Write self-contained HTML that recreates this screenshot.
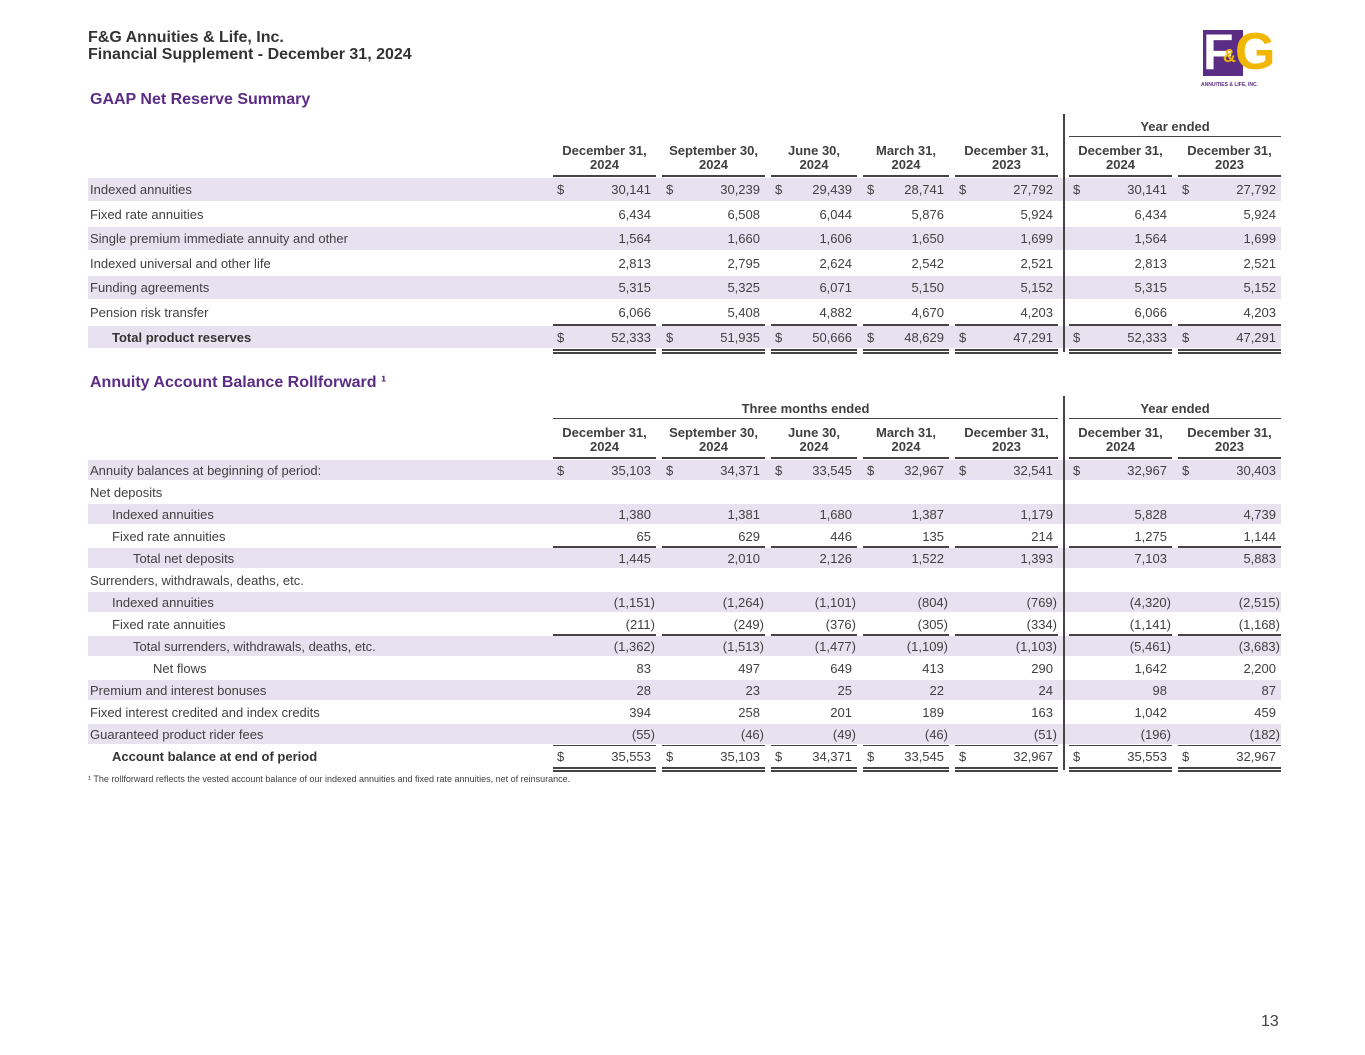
<!DOCTYPE html>
<html><head><meta charset="utf-8">
<style>
body{margin:0;width:1365px;height:1055px;background:#fff;position:relative;overflow:hidden;font-family:"Liberation Sans",Arial,sans-serif;color:#404040}
.a{position:absolute;white-space:nowrap}
.t{font-size:13px;line-height:15px}
.h{font-weight:bold;font-size:13px;line-height:14px;text-align:center;color:#404040}
.shade{position:absolute;background:#e8e2f0}
.ln{position:absolute;background:#444;height:1px}
</style></head><body>
<div class="a" style="left:88px;top:29px;font-weight:bold;font-size:16px;line-height:17px;color:#333">F&amp;G Annuities &amp; Life, Inc.<br>Financial Supplement - December 31, 2024</div>
<div class="a" style="left:1201px;top:30px;width:80px;height:60px">
 <div style="position:absolute;left:2px;top:0;width:40px;height:46px;background:#5b2c83"></div>
 <div style="position:absolute;left:2px;top:-6px;font:bold 50px/56px 'Liberation Sans';color:#fff;letter-spacing:-3px">F</div>
 <div style="position:absolute;left:34px;top:-6px;font:bold 52px/56px 'Liberation Sans';color:#f2b705">G</div>
 <div style="position:absolute;left:22px;top:16px;font:bold 18px/20px 'Liberation Sans';color:#f2b705">&amp;</div>
 <div style="position:absolute;left:0;top:52px;font:bold 5px/6px 'Liberation Sans';color:#5b2c83">ANNUITIES &amp; LIFE, INC.</div>
</div>
<div class="a" style="left:90px;top:91px;font-weight:bold;font-size:16px;color:#5b2c83">GAAP Net Reserve Summary</div>
<div class="a" style="left:90px;top:374px;font-weight:bold;font-size:16px;color:#5b2c83">Annuity Account Balance Rollforward ¹</div>
<div class="a" style="left:88px;top:774px;font-size:9px">¹ The rollforward reflects the vested account balance of our indexed annuities and fixed rate annuities, net of reinsurance.</div>
<div class="a" style="left:1261px;top:1013px;font-size:16px">13</div>
<div id="root"></div>
<script>
const colL=[553,662,771,863,955,1069,1178];
const colR=[656,765,857,949,1058,1172,1281];
const headers=[["December 31,","2024"],["September 30,","2024"],["June 30,","2024"],["March 31,","2024"],["December 31,","2023"],["December 31,","2024"],["December 31,","2023"]];

const t1Labels=["Indexed annuities","Fixed rate annuities","Single premium immediate annuity and other","Indexed universal and other life","Funding agreements","Pension risk transfer","Total product reserves"];
const t1Values=[
["30,141","30,239","29,439","28,741","27,792","30,141","27,792"],
["6,434","6,508","6,044","5,876","5,924","6,434","5,924"],
["1,564","1,660","1,606","1,650","1,699","1,564","1,699"],
["2,813","2,795","2,624","2,542","2,521","2,813","2,521"],
["5,315","5,325","6,071","5,150","5,152","5,315","5,152"],
["6,066","5,408","4,882","4,670","4,203","6,066","4,203"],
["52,333","51,935","50,666","48,629","47,291","52,333","47,291"]];
const t1Dollar=[true,false,false,false,false,false,true];
const t1Bold=[false,false,false,false,false,false,true];
const t1Indent=[0,0,0,0,0,0,22];

const t2Labels=["Annuity balances at beginning of period:","Net deposits","Indexed annuities","Fixed rate annuities","Total net deposits","Surrenders, withdrawals, deaths, etc.","Indexed annuities","Fixed rate annuities","Total surrenders, withdrawals, deaths, etc.","Net flows","Premium and interest bonuses","Fixed interest credited and index credits","Guaranteed product rider fees","Account balance at end of period"];
const t2Values=[
["35,103","34,371","33,545","32,967","32,541","32,967","30,403"],
null,
["1,380","1,381","1,680","1,387","1,179","5,828","4,739"],
["65","629","446","135","214","1,275","1,144"],
["1,445","2,010","2,126","1,522","1,393","7,103","5,883"],
null,
["(1,151)","(1,264)","(1,101)","(804)","(769)","(4,320)","(2,515)"],
["(211)","(249)","(376)","(305)","(334)","(1,141)","(1,168)"],
["(1,362)","(1,513)","(1,477)","(1,109)","(1,103)","(5,461)","(3,683)"],
["83","497","649","413","290","1,642","2,200"],
["28","23","25","22","24","98","87"],
["394","258","201","189","163","1,042","459"],
["(55)","(46)","(49)","(46)","(51)","(196)","(182)"],
["35,553","35,103","34,371","33,545","32,967","35,553","32,967"]];
const t2Dollar=[true,false,false,false,false,false,false,false,false,false,false,false,false,true];
const t2Bold=[false,false,false,false,false,false,false,false,false,false,false,false,false,true];
const t2Indent=[0,0,22,22,43,0,22,22,43,63,0,0,0,22];
const t2Under=[false,false,false,true,false,false,false,true,false,false,false,false,false,false];

const root=document.getElementById('root');
function el(cls,css,txt){const d=document.createElement('div');d.className=cls;d.style.cssText=css;if(txt!==undefined)d.textContent=txt;root.appendChild(d);return d;}

function table(prefix,top,labels,values,dollar,bold,indent,under,rowH,titleTxt){
  const gy=top;
  if(titleTxt){
    const g=el('a h','left:553px;width:505px;top:'+gy+'px',titleTxt);
    
    const l=el('ln','left:553px;width:505px;top:'+(gy+16)+'px');
    
  }
  const y1=el('a h','left:1069px;width:212px;top:'+gy+'px','Year ended');
  
  const yl=el('ln','left:1069px;width:212px;top:'+(gy+16)+'px');
  
  const hy=gy+24;
  headers.forEach((h,i)=>{
    const d=el('a h','left:'+colL[i]+'px;width:'+(colR[i]-colL[i])+'px;top:'+hy+'px',h[0]+'\n'+h[1]);
    d.style.whiteSpace='pre';
    
    const l=el('ln','left:'+colL[i]+'px;width:'+(colR[i]-colL[i])+'px;top:'+(hy+31)+'px;height:2px');
    
  });
  let y=hy+34;
  labels.forEach((lab,r)=>{
    if(r%2===0){const s=el('shade','left:88px;width:1193px;top:'+y+'px;height:'+(rowH-2)+'px');
      }
    const ty=y+Math.round((rowH-2-15)/2);
    const l=el('a t','left:'+(90+indent[r])+'px;top:'+ty+'px;'+(bold[r]?'font-weight:bold;color:#333':''),lab);
    
    const last=r===labels.length-1;
    if(values[r]){
      values[r].forEach((v,i)=>{
        if(dollar[r]){const d=el('a t','left:'+(colL[i]+4)+'px;top:'+ty+'px','$');
          }
        const neg=v.startsWith('(');
        const c=el('a t','left:'+colL[i]+'px;width:'+(colR[i]-colL[i]-(neg?1:5))+'px;text-align:right;top:'+ty+'px',v);
        
        if(under[r]){const u=el('ln','left:'+colL[i]+'px;width:'+(colR[i]-colL[i])+'px;top:'+(y+rowH-2)+'px;height:2px');
          }
        if(last){
          const a=el('ln','left:'+colL[i]+'px;width:'+(colR[i]-colL[i])+'px;top:'+(y-1)+'px');
          
          const b=el('ln','left:'+colL[i]+'px;width:'+(colR[i]-colL[i])+'px;top:'+(y+rowH-1)+'px;height:2px');
          
          const c2=el('ln','left:'+colL[i]+'px;width:'+(colR[i]-colL[i])+'px;top:'+(y+rowH+2)+'px;height:2px');
          
        }
      });
    }
    y+=rowH;
  });
  const v=el('ln','left:1063px;width:2px;top:'+(gy-6)+'px;height:'+(y-gy+8)+'px');
  
}
table('reserve',120,t1Labels,t1Values,t1Dollar,t1Bold,t1Indent,[false,false,false,false,false,true,false],24.6,null);
table('rollforward',402,t2Labels,t2Values,t2Dollar,t2Bold,t2Indent,t2Under,22,'Three months ended');
</script>
</body></html>
